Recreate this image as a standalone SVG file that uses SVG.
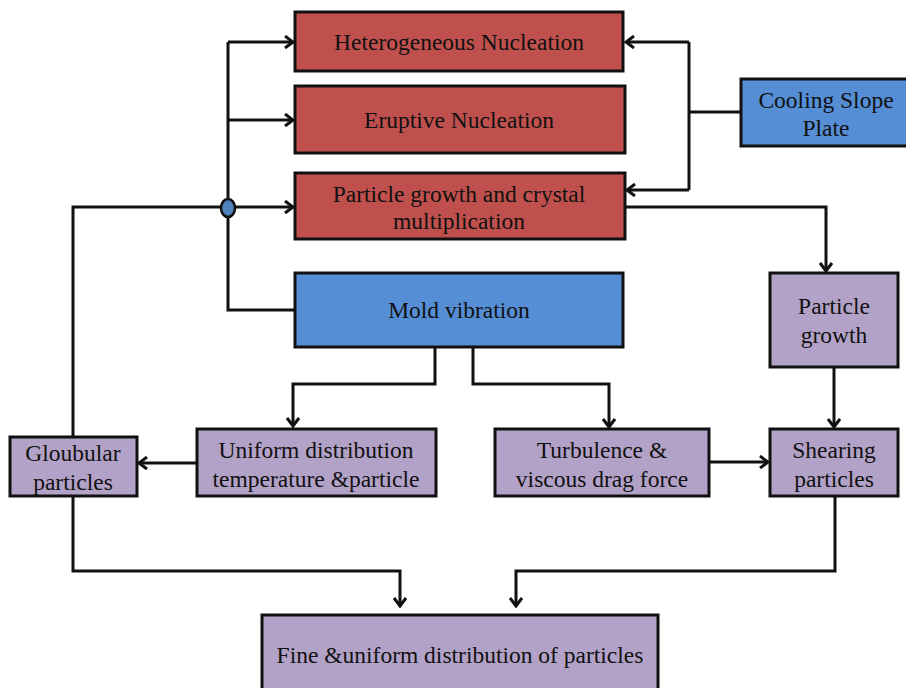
<svg xmlns="http://www.w3.org/2000/svg" width="906" height="688" viewBox="0 0 906 688">
<style>
.box{stroke:#111;stroke-width:3}
.red{fill:#C0504D}
.blue{fill:#558ED5}
.pur{fill:#B3A2C7}
.t{font-family:"Liberation Serif","Times New Roman",serif;font-size:23.5px;fill:#111;text-anchor:middle}
.c{fill:none;stroke:#111;stroke-width:3}
</style>
<defs>
<marker id="a" markerWidth="12" markerHeight="14" refX="10" refY="7" orient="auto" markerUnits="userSpaceOnUse">
<path d="M2,1 L10,7 L2,13" fill="none" stroke="#111" stroke-width="3"/>
</marker>
</defs>
<rect width="906" height="688" fill="#fff"/>
<g id="connectors">
<path class="c" d="M228,42 V310 H295"/>
<path class="c" d="M228,42 H293" marker-end="url(#a)"/>
<path class="c" d="M228,120 H293" marker-end="url(#a)"/>
<path class="c" d="M228,207 H293" marker-end="url(#a)"/>
<path class="c" d="M73,437 V207 H222"/>
<path class="c" d="M741,112 H689"/>
<path class="c" d="M689,42 V190"/>
<path class="c" d="M689,42 H626" marker-end="url(#a)"/>
<path class="c" d="M689,190 H627" marker-end="url(#a)"/>
<path class="c" d="M625,207 H826 V271" marker-end="url(#a)"/>
<path class="c" d="M435,347 V384 H293 V426" marker-end="url(#a)"/>
<path class="c" d="M473,347 V384 H609 V427" marker-end="url(#a)"/>
<path class="c" d="M834,367 V427" marker-end="url(#a)"/>
<path class="c" d="M709,462 H768" marker-end="url(#a)"/>
<path class="c" d="M197,463 H139" marker-end="url(#a)"/>
<path class="c" d="M73,496 V571 H400 V606" marker-end="url(#a)"/>
<path class="c" d="M835,496 V571 H516 V606" marker-end="url(#a)"/>
<ellipse cx="228" cy="208" rx="7" ry="9" fill="#4F81BD" stroke="#111" stroke-width="2.5"/>
</g>
<g id="hetero"><rect class="box red" x="295" y="12" width="328" height="59"/><text class="t" x="459" y="50">Heterogeneous Nucleation</text></g>
<g id="eruptive"><rect class="box red" x="295" y="86" width="330" height="67"/><text class="t" x="459" y="128">Eruptive Nucleation</text></g>
<g id="pgcm"><rect class="box red" x="295" y="173" width="330" height="66"/><text class="t" x="459" y="202">Particle growth and crystal</text><text class="t" x="459" y="229">multiplication</text></g>
<g id="cooling"><rect class="box blue" x="741" y="79" width="168" height="67"/><text class="t" x="826" y="108">Cooling Slope</text><text class="t" x="826" y="136">Plate</text></g>
<g id="mold"><rect class="box blue" x="295" y="273" width="328" height="74"/><text class="t" x="459" y="318">Mold vibration</text></g>
<g id="pgrowth"><rect class="box pur" x="770" y="273" width="128" height="94"/><text class="t" x="834" y="314">Particle</text><text class="t" x="834" y="343">growth</text></g>
<g id="uniform"><rect class="box pur" x="197" y="429" width="239" height="67"/><text class="t" x="316" y="458">Uniform distribution</text><text class="t" x="316" y="487">temperature &amp;particle</text></g>
<g id="turb"><rect class="box pur" x="495" y="429" width="214" height="67"/><text class="t" x="602" y="458">Turbulence &amp;</text><text class="t" x="602" y="487">viscous drag force</text></g>
<g id="shear"><rect class="box pur" x="770" y="429" width="128" height="67"/><text class="t" x="834" y="458">Shearing</text><text class="t" x="834" y="487">particles</text></g>
<g id="glob"><rect class="box pur" x="10" y="437" width="127" height="59"/><text class="t" x="73" y="461">Gloubular</text><text class="t" x="73" y="490">particles</text></g>
<g id="fine"><rect class="box pur" x="262" y="615" width="396" height="80"/><text class="t" x="460" y="663">Fine &amp;uniform distribution of particles</text></g>
</svg>
